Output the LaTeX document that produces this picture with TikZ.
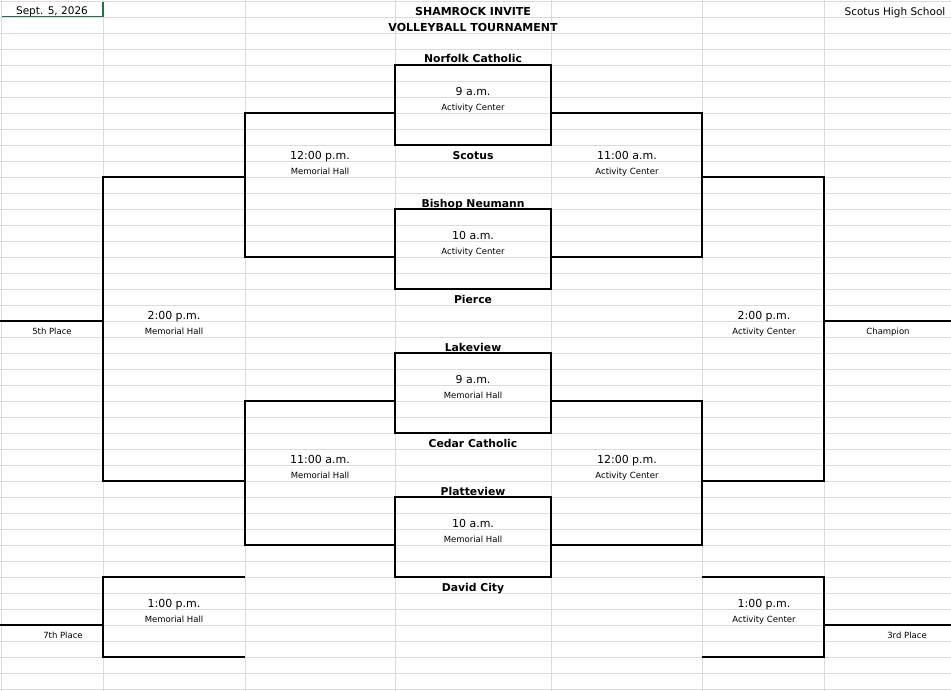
\documentclass[tikz,border=0pt]{standalone}
\usepackage{fontspec}
\setmainfont{DejaVu Sans}
\begin{document}
\begin{tikzpicture}[x=1pt,y=-1pt,
  grid/.style={draw=black!14,line width=0.8pt},
  br/.style={draw=black,line width=1.1pt},
  team/.style={font=\fontsize{10.8}{12}\selectfont\bfseries,inner sep=0,anchor=base,yshift=-4pt},
  tm/.style={font=\fontsize{11}{12}\selectfont,inner sep=0,anchor=base,yshift=-4pt},
  ven/.style={font=\fontsize{8.5}{10}\selectfont,inner sep=0,anchor=base,yshift=-3pt},
  hd/.style={font=\fontsize{11}{12}\selectfont\bfseries,inner sep=0,anchor=base,yshift=-4pt}]
\useasboundingbox (0,0) rectangle (951,691);
\fill[white] (0,0) rectangle (951,691);
% grid
\foreach \y in {1,17,...,689} \draw[grid] (0,\y) -- (951,\y);
\foreach \x in {1,103,245,395,551,702,824} \draw[grid] (\x,0) -- (\x,691);
% header
\node[tm,font=\fontsize{10.5}{12}\selectfont] (date) at (52,10) {Sept. 5, 2026};
\draw[draw={rgb,255:red,33;green,115;blue,70},line width=1.6pt] (2,16.5) -- (103,16.5) (103,2) -- (103,17);
\node[hd] (t1) at (473,11) {SHAMROCK INVITE};
\node[hd] (t2) at (473,27) {VOLLEYBALL TOURNAMENT};
\node[tm,font=\fontsize{10.5}{12}\selectfont] (sch) at (895,11) {Scotus High School};
% first-round boxes
\foreach \t in {65,209,353,497} \draw[br] (395,\t) rectangle (551,\t+80);
% second round
\draw[br] (395,113) -- (245,113) -- (245,257) -- (395,257);
\draw[br] (551,113) -- (702,113) -- (702,257) -- (551,257);
\draw[br] (395,401) -- (245,401) -- (245,545) -- (395,545);
\draw[br] (551,401) -- (702,401) -- (702,545) -- (551,545);
% finals
\draw[br] (245,177) -- (103,177) -- (103,481) -- (245,481);
\draw[br] (702,177) -- (824,177) -- (824,481) -- (702,481);
\draw[br] (0,321) -- (103,321);
\draw[br] (824,321) -- (951,321);
% 1pm
\draw[br] (245,577) -- (103,577) -- (103,657) -- (245,657);
\draw[br] (702,577) -- (824,577) -- (824,657) -- (702,657);
\draw[br] (0,625) -- (103,625);
\draw[br] (824,625) -- (951,625);
% teams
\node[team] (n1) at (473,58) {Norfolk Catholic};
\node[team] (n2) at (473,155) {Scotus};
\node[team] (n3) at (473,203) {Bishop Neumann};
\node[team] (n4) at (473,299) {Pierce};
\node[team] (n5) at (473,347) {Lakeview};
\node[team] (n6) at (473,443) {Cedar Catholic};
\node[team] (n7) at (473,491) {Platteview};
\node[team] (n8) at (473,587) {David City};
% games
\newcommand{\gm}[5]{\node[tm] (#1a) at (#2,#3) {#4}; \node[ven] (#1b) at (#2,#3+16) {#5};}
\gm{g1}{473}{91}{9 a.m.}{Activity Center}
\gm{g2}{473}{235}{10 a.m.}{Activity Center}
\gm{g3}{473}{379}{9 a.m.}{Memorial Hall}
\gm{g4}{473}{523}{10 a.m.}{Memorial Hall}
\gm{g5}{320}{155}{12:00 p.m.}{Memorial Hall}
\gm{g6}{627}{155}{11:00 a.m.}{Activity Center}
\gm{g7}{320}{459}{11:00 a.m.}{Memorial Hall}
\gm{g8}{627}{459}{12:00 p.m.}{Activity Center}
\gm{g9}{174}{315}{2:00 p.m.}{Memorial Hall}
\gm{g10}{764}{315}{2:00 p.m.}{Activity Center}
\gm{g11}{174}{603}{1:00 p.m.}{Memorial Hall}
\gm{g12}{764}{603}{1:00 p.m.}{Activity Center}
\node[ven] (p5) at (52,331) {5th Place};
\node[ven] (pc) at (888,331) {Champion};
\node[ven] (p7) at (63,635) {7th Place};
\node[ven] (p3) at (907,635) {3rd Place};
\end{tikzpicture}
\end{document}
